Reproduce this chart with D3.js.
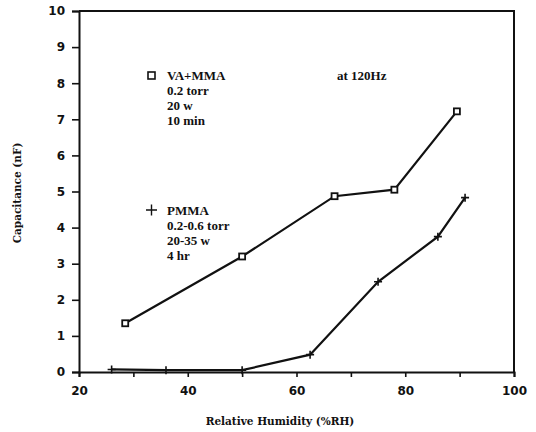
<!DOCTYPE html>
<html>
<head>
<meta charset="utf-8">
<script src="https://cdn.jsdelivr.net/npm/d3@7"></script>
<style>
  body { margin: 0; background: #fff; }
  svg { display: block; }
  .tick text { font-family: "DejaVu Sans", sans-serif; font-weight: bold; font-size: 12px; fill: #111; }
  .lbl { font-family: "Liberation Serif", serif; font-weight: bold; font-size: 13px; fill: #111; }
  .title { font-family: "DejaVu Serif", serif; font-weight: bold; font-size: 10.5px; fill: #111; }
</style>
</head>
<body>
<div id="chart"></div>
<script>
var vaX = [28.5, 50, 67, 78, 89.5];
var vaY = [1.35, 3.2, 4.87, 5.05, 7.22];

var pmmaX = [26, 36, 50, 62.5, 75, 86, 91];
var pmmaY = [0.07, 0.05, 0.05, 0.48, 2.5, 3.75, 4.83];

var xTicks = [20, 40, 60, 80, 100];
var xMinor = [30, 50, 70, 90];
var yTicks = [0, 1, 2, 3, 4, 5, 6, 7, 8, 9, 10];

var legendVA = ["VA+MMA", "0.2 torr", "20 w", "10 min"];
var legendPM = ["PMMA", "0.2-0.6 torr", "20-35 w", "4 hr"];

var width = 536, height = 432;
var margin = { top: 11, left: 79, right: 22, bottom: 60 };

var svg = d3.select("#chart").append("svg")
            .attr("width", width)
            .attr("height", height);

var x = d3.scaleLinear().domain([20, 100]).range([margin.left, width - margin.right]);
var y = d3.scaleLinear().domain([0, 10]).range([height - margin.bottom, margin.top]);

// frame (top + right)
svg.append("path")
   .attr("d", "M" + x(20) + "," + y(10) + "H" + x(100) + "V" + y(0))
   .attr("fill", "none")
   .attr("stroke", "#111")
   .attr("stroke-width", 2);

var xAxis = svg.append("g")
   .attr("transform", "translate(0," + y(0) + ")")
   .call(d3.axisBottom(x).tickValues(xTicks).tickSize(5).tickPadding(7).tickFormat(d3.format("d")));

svg.append("g")
   .attr("transform", "translate(0," + y(0) + ")")
   .call(d3.axisBottom(x).tickValues(xMinor).tickSize(5).tickFormat(""))
   .select(".domain").remove();

var yAxis = svg.append("g")
   .attr("transform", "translate(" + x(20) + ",0)")
   .call(d3.axisLeft(y).tickValues(yTicks).tickSize(7).tickPadding(7));

svg.selectAll(".domain").attr("stroke", "#111").attr("stroke-width", 2);
svg.selectAll(".tick line").attr("stroke", "#111").attr("stroke-width", 1.6);
xAxis.selectAll(".tick text").attr("dy", "0.9em");

// axis titles
svg.append("text")
   .attr("class", "title")
   .attr("x", 280)
   .attr("y", 425)
   .attr("text-anchor", "middle")
   .text("Relative Humidity (%RH)");

svg.append("text")
   .attr("class", "title")
   .attr("transform", "translate(21,193) rotate(-90)")
   .attr("text-anchor", "middle")
   .text("Capacitance (nF)");

var line = d3.line().x(d => x(d[0])).y(d => y(d[1]));

var vaData = vaX.map((d, i) => [d, vaY[i]]);
var pmData = pmmaX.map((d, i) => [d, pmmaY[i]]);

svg.append("path")
   .datum(vaData)
   .attr("d", line)
   .attr("fill", "none")
   .attr("stroke", "#111")
   .attr("stroke-width", 2.2);

svg.append("path")
   .datum(pmData)
   .attr("d", line)
   .attr("fill", "none")
   .attr("stroke", "#111")
   .attr("stroke-width", 2.2);

svg.selectAll("rect.va")
   .data(vaData)
   .enter().append("rect")
   .attr("class", "va")
   .attr("x", d => x(d[0]) - 3)
   .attr("y", d => y(d[1]) - 3)
   .attr("width", 6)
   .attr("height", 6)
   .attr("fill", "#fff")
   .attr("stroke", "#111")
   .attr("stroke-width", 1.8);

svg.selectAll("path.pm")
   .data(pmData)
   .enter().append("path")
   .attr("class", "pm")
   .attr("transform", d => "translate(" + x(d[0]) + "," + y(d[1]) + ")")
   .attr("d", "M-4,0H4M0,-4V4")
   .attr("stroke", "#111")
   .attr("stroke-width", 1.6);

// legend
svg.append("rect")
   .attr("x", 148).attr("y", 72)
   .attr("width", 7).attr("height", 7)
   .attr("fill", "#fff").attr("stroke", "#111").attr("stroke-width", 1.6);

svg.append("path")
   .attr("d", "M146,210H157M151.5,204.5V215.5")
   .attr("stroke", "#111").attr("stroke-width", 1.4);

svg.selectAll("text.va")
   .data(legendVA)
   .enter().append("text")
   .attr("class", "lbl va")
   .attr("x", 167)
   .attr("y", (d, i) => 80 + i * 15)
   .text(d => d);

svg.selectAll("text.pm")
   .data(legendPM)
   .enter().append("text")
   .attr("class", "lbl pm")
   .attr("x", 167)
   .attr("y", (d, i) => 215 + i * 15)
   .text(d => d);

svg.append("text")
   .attr("class", "lbl")
   .attr("x", 337)
   .attr("y", 80)
   .text("at  120Hz");
</script>
</body>
</html>
